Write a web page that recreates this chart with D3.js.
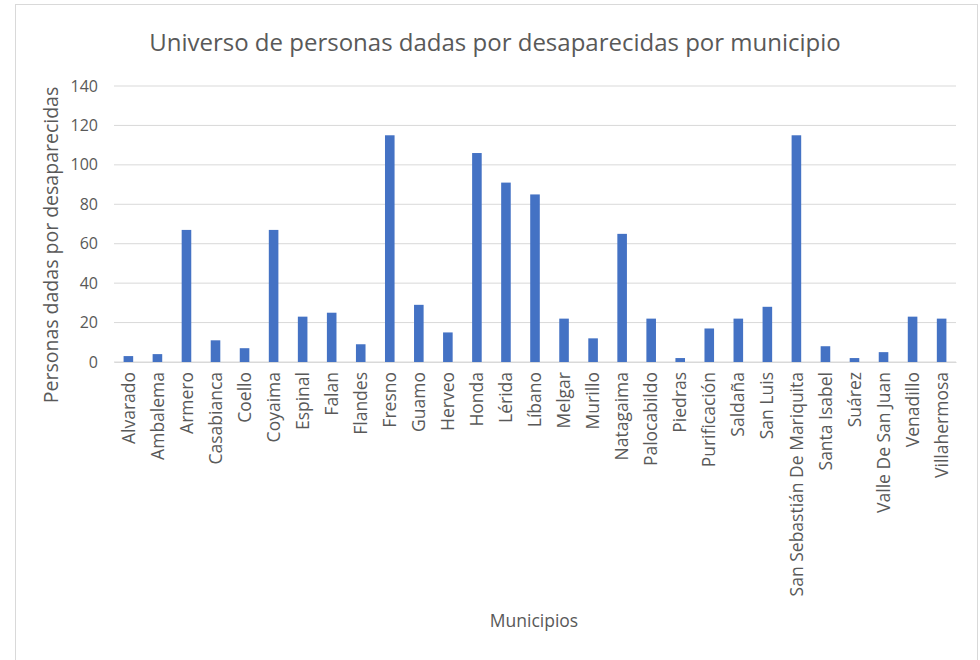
<!DOCTYPE html>
<html>
<head>
<meta charset="utf-8">
<script src="https://cdn.jsdelivr.net/npm/d3@7"></script>
<style>
  body { margin: 0; background: #fff; }
  text { font-family: "Open Sans", sans-serif; fill: #595959; }
</style>
</head>
<body>
<svg></svg>
<script>
var municipios = ["Alvarado", "Ambalema", "Armero", "Casabianca", "Coello", "Coyaima", "Espinal",
  "Falan", "Flandes", "Fresno", "Guamo", "Herveo", "Honda", "Lérida", "Líbano", "Melgar",
  "Murillo", "Natagaima", "Palocabildo", "Piedras", "Purificación", "Saldaña", "San Luis",
  "San Sebastián De Mariquita", "Santa Isabel", "Suárez", "Valle De San Juan", "Venadillo",
  "Villahermosa"];
var personas = [3, 4, 67, 11, 7, 67, 23, 25, 9, 115, 29, 15, 106, 91, 85, 22, 12, 65, 22, 2,
  17, 22, 28, 115, 8, 2, 5, 23, 22];
var yTicks = [0, 20, 40, 60, 80, 100, 120, 140];

var titulo = "Universo de personas dadas por desaparecidas por municipio";
var tituloY = "Personas dadas por desaparecidas";
var tituloX = "Municipios";

var drawChart = function() {
  var width = 980, height = 660;
  var left = 114, right = 956, top = 86, bottom = 362;

  var svg = d3.select("svg")
    .attr("width", width)
    .attr("height", height);

  // marco del grafico
  svg.append("rect")
    .attr("x", 15.5).attr("y", 4.5)
    .attr("width", 962).attr("height", 670)
    .attr("fill", "none")
    .attr("stroke", "#d9d9d9");

  var x = d3.scaleBand()
    .domain(municipios)
    .range([left, right])
    .paddingInner(0.67)
    .paddingOuter(0.33);

  var y = d3.scaleLinear()
    .domain([0, 140])
    .range([bottom, top]);

  // lineas de cuadricula
  svg.append("g")
    .selectAll("line")
    .data(yTicks)
    .enter()
    .append("line")
    .attr("x1", left)
    .attr("x2", right)
    .attr("y1", function(d) { return y(d); })
    .attr("y2", function(d) { return y(d); })
    .attr("stroke", "#d9d9d9")
    .attr("stroke-width", 1);

  var yAxis = svg.append("g")
    .attr("transform", "translate(" + left + ",0)")
    .call(d3.axisLeft(y).tickValues(yTicks).tickSize(0).tickPadding(16));
  yAxis.select(".domain").remove();
  yAxis.selectAll("text")
    .attr("font-size", 16)
    .attr("fill", "#595959");

  svg.selectAll("rect.bar")
    .data(personas)
    .enter()
    .append("rect")
    .attr("class", "bar")
    .attr("x", function(d, i) { return x(municipios[i]); })
    .attr("y", function(d) { return y(d); })
    .attr("width", x.bandwidth())
    .attr("height", function(d) { return bottom - y(d); })
    .attr("fill", "#4472c4");

  var xAxis = svg.append("g")
    .attr("transform", "translate(0," + bottom + ")")
    .call(d3.axisBottom(x).tickSize(0).tickPadding(0));
  xAxis.select(".domain").attr("stroke", "#d9d9d9");
  xAxis.selectAll("text")
    .attr("font-size", 17.5)
    .attr("fill", "#595959")
    .attr("transform", "rotate(-90)")
    .attr("text-anchor", "end")
    .attr("x", -10)
    .attr("y", 0)
    .attr("dy", "0.35em");

  svg.append("text")
    .attr("x", 495)
    .attr("y", 51)
    .attr("text-anchor", "middle")
    .attr("font-size", 24)
    .text(titulo);

  svg.append("text")
    .attr("transform", "translate(58,245) rotate(-90)")
    .attr("text-anchor", "middle")
    .attr("font-size", 19.5)
    .text(tituloY);

  svg.append("text")
    .attr("x", 534)
    .attr("y", 627)
    .attr("text-anchor", "middle")
    .attr("font-size", 17.5)
    .text(tituloX);
};

drawChart();
</script>
</body>
</html>
